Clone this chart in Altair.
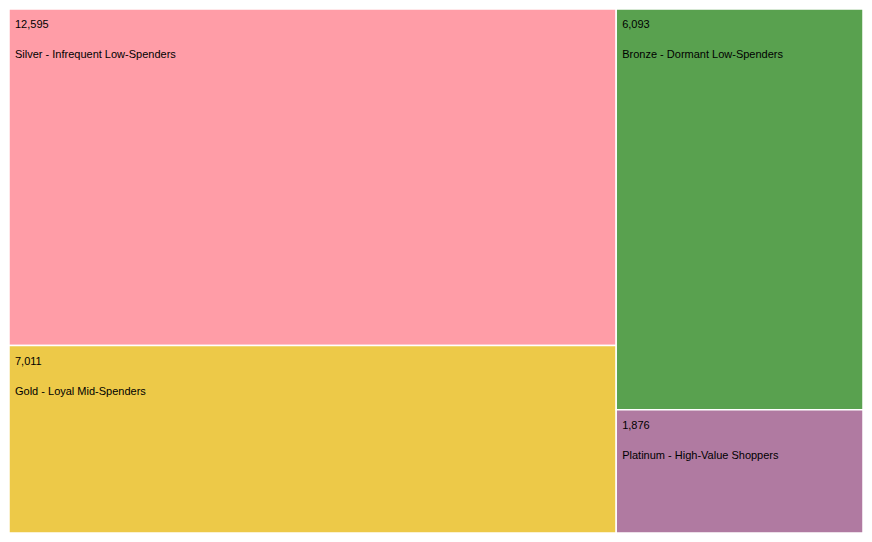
import altair as alt
import pandas as pd

segments = [
    "Silver - Infrequent Low-Spenders",
    "Gold - Loyal Mid-Spenders",
    "Bronze - Dormant Low-Spenders",
    "Platinum - High-Value Shoppers",
]
customers = [12595, 7011, 6093, 1876]
column_group = [0, 0, 1, 1]
colors = ["#FF9DA7", "#EDC948", "#59A14F", "#B07AA1"]

df = pd.DataFrame({
    "segment": segments,
    "value": customers,
    "col": column_group,
    "order": list(range(len(segments))),
})

base = alt.Chart(df).transform_joinaggregate(
    total="sum(value)"
).transform_joinaggregate(
    col_total="sum(value)", groupby=["col"]
).transform_window(
    y_end="sum(value)", groupby=["col"], sort=[alt.SortField("order")],
    frame=[None, 0]
).transform_calculate(
    yf0="(datum.y_end - datum.value) / datum.col_total",
    yf1="datum.y_end / datum.col_total",
    x0="datum.col == 0 ? 0 : datum.total - datum.col_total",
    x1="datum.col == 0 ? datum.col_total : datum.total",
)

xs = alt.Scale(nice=False, zero=True)
ys = alt.Scale(domain=[0, 1], reverse=True, nice=False)

rects = base.mark_rect(stroke="white", strokeWidth=1.5).encode(
    x=alt.X("x0:Q", scale=xs, axis=None),
    x2="x1:Q",
    y=alt.Y("yf0:Q", scale=ys, axis=None),
    y2="yf1:Q",
    color=alt.Color("segment:N", scale=alt.Scale(domain=segments, range=colors), legend=None),
)

font = "Liberation Sans"

num_text = base.mark_text(
    align="left", baseline="middle", dx=6, dy=16, fontSize=11, font=font, color="#000000"
).encode(
    x=alt.X("x0:Q", scale=xs, axis=None),
    y=alt.Y("yf0:Q", scale=ys, axis=None),
    text=alt.Text("value:Q", format=","),
)

lab_text = base.mark_text(
    align="left", baseline="middle", dx=6, dy=46, fontSize=11, font=font, color="#000000"
).encode(
    x=alt.X("x0:Q", scale=xs, axis=None),
    y=alt.Y("yf0:Q", scale=ys, axis=None),
    text="segment:N",
)

chart = alt.layer(rects, num_text, lab_text).properties(
    width=856,
    height=526,
    autosize=alt.AutoSizeParams(type="fit", contains="padding"),
    padding=0,
).configure_view(stroke=None)

chart.save("out.html", embed_options={"renderer": "svg", "actions": False})
